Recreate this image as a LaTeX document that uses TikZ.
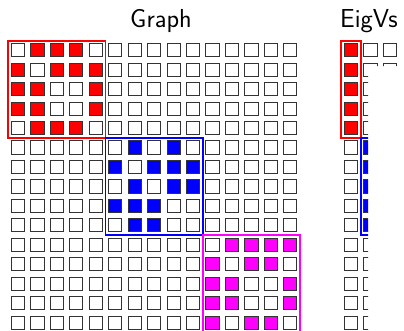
\documentclass[tikz,border=0pt]{standalone}
\usepackage{fix-cm}
\usetikzlibrary{fit}
\definecolor{blkRed}{RGB}{255,0,0}
\definecolor{blkBlue}{RGB}{0,0,255}
\definecolor{blkMag}{RGB}{255,0,255}

\begin{document}
\begin{tikzpicture}[x=1pt, y=-1pt,
    cell/.style={draw=black!80, line width=1pt, minimum size=13.2pt,
      inner sep=0pt, outer sep=0pt},
    blk/.style={draw=#1, line width=1.8pt, inner sep=3.1pt},
    title/.style={font=\sffamily\fontsize{26}{31}\selectfont, anchor=base, inner sep=0pt}]
  \clip (0,0) rectangle (404,330);

  \node[title] (graphlbl) at (161,27) {Graph};
  \node[title] (eiglbl) at (369,27) {EigVs};

  % adjacency matrix: 0 empty, 1 red, 2 blue, 3 magenta
  \foreach \rowbits [count=\r] in {
      {0,1,1,1,0,0,0,0,0,0,0,0,0,0,0},
      {1,0,1,1,1,0,0,0,0,0,0,0,0,0,0},
      {1,1,0,0,1,0,0,0,0,0,0,0,0,0,0},
      {1,1,0,0,1,0,0,0,0,0,0,0,0,0,0},
      {0,1,1,1,0,0,0,0,0,0,0,0,0,0,0},
      {0,0,0,0,0,0,2,0,2,0,0,0,0,0,0},
      {0,0,0,0,0,2,0,2,2,2,0,0,0,0,0},
      {0,0,0,0,0,0,2,0,2,2,0,0,0,0,0},
      {0,0,0,0,0,2,2,2,0,0,0,0,0,0,0},
      {0,0,0,0,0,0,2,2,0,0,0,0,0,0,0},
      {0,0,0,0,0,0,0,0,0,0,0,3,3,3,3},
      {0,0,0,0,0,0,0,0,0,0,3,0,3,3,0},
      {0,0,0,0,0,0,0,0,0,0,3,3,0,0,3},
      {0,0,0,0,0,0,0,0,0,0,3,3,0,0,3},
      {0,0,0,0,0,0,0,0,0,0,3,0,3,3,0}}{
    \foreach \bit [count=\c] in \rowbits {
      \edef\cellcol{\ifcase\bit white\or blkRed\or blkBlue\or blkMag\fi}
      \node[cell, fill=\cellcol] (g-\r-\c) at ({18+(\c-1)*19.45}, {50.3+(\r-1)*19.45}) {};
    }
  }

  \node[blk=blkRed, fit=(g-1-1)(g-5-5)] (redblk) {};
  \node[blk=blkBlue, fit=(g-6-6)(g-10-10)] (blueblk) {};
  \node[blk=blkMag, fit=(g-11-11)(g-15-15)] (magblk) {};

  % eigenvectors, partly covered
  \begin{scope}
    \clip (330,0) -- (404,0) -- (404,66) -- (368,66) -- (368,330) -- (330,330) -- cycle;
    \foreach \rowbits [count=\r] in {
        {1,0,0},{1,0,0},{1,0,0},{1,0,0},{1,0,0},
        {0,2,0},{0,2,0},{0,2,0},{0,2,0},{0,2,0},
        {0,0,0},{0,0,0},{0,0,0},{0,0,0},{0,0,0}}{
      \foreach \bit [count=\c] in \rowbits {
        \edef\cellcol{\ifcase\bit white\or blkRed\or blkBlue\or blkMag\fi}
        \node[cell, fill=\cellcol] (e-\r-\c) at ({351+(\c-1)*19.45}, {50.3+(\r-1)*19.45}) {};
      }
    }
    \node[blk=blkRed, fit=(e-1-1)(e-5-1)] (redvec) {};
    \node[blk=blkBlue, fit=(e-6-2)(e-10-2)] (bluevec) {};
  \end{scope}
\end{tikzpicture}
\end{document}
